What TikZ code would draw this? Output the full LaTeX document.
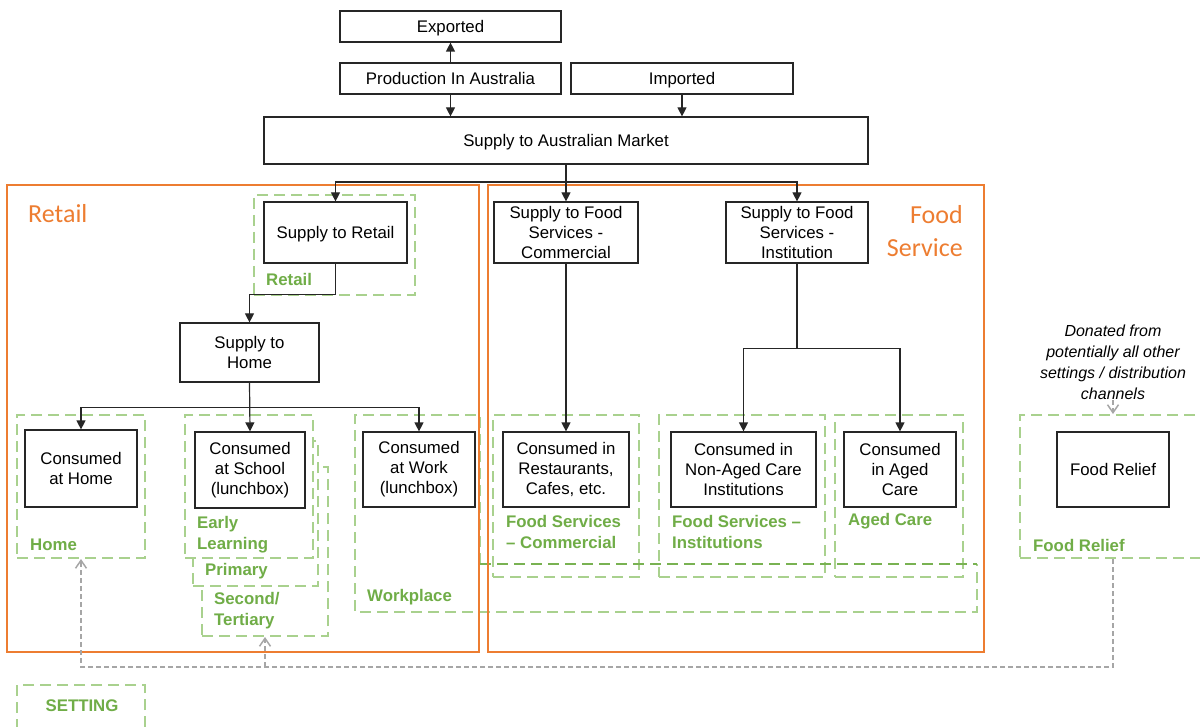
\documentclass[tikz,border=0pt]{standalone}
\usepackage{fontspec}
\setmainfont{Liberation Sans}
\newfontfamily\calib{Carlito}
\usetikzlibrary{arrows.meta}
\definecolor{orng}{HTML}{ED7D31}
\definecolor{grn}{HTML}{70AD47}
\definecolor{lgrn}{HTML}{A9D18E}
\definecolor{gry}{HTML}{A6A6A6}
\definecolor{ink}{HTML}{262626}

\begin{document}
\begin{tikzpicture}[x=1pt,y=-1pt,
  bx/.style={draw=ink, line width=1.2pt, fill=white, inner sep=0pt, align=center,
    font=\fontsize{16.8}{20}\selectfont},
  oneline/.style={text height=12pt, text depth=0pt},
  twoline/.style={execute at begin node={\rule{0pt}{16pt}}},
  zone/.style={draw=lgrn, line width=2pt, dash pattern=on 11pt off 6pt, fill=white, inner sep=0pt},
  glab/.style={text=grn, font=\fontsize{16.8}{21}\bfseries\selectfont, align=left, inner sep=0pt, anchor=west},
  olab/.style={text=orng, font=\calib\fontsize{26}{33}\selectfont, inner sep=0pt},
  sector/.style={draw=orng, line width=2pt},
  link/.style={draw=ink, line width=1.2pt},
  arr/.style={link, -{Triangle[length=9pt,width=9pt]}},
  feed/.style={draw=gry, line width=1.5pt, dash pattern=on 5pt off 3pt},
  feedarr/.style={feed, -{Straight Barb[length=8pt,width=11pt]}}
]
\useasboundingbox (0,0) rectangle (1200,727);

% ---- settings (green dashed zones) ----
\node[zone, minimum width=126pt, minimum height=169pt] (ztert) at (265,551.5) {};
\node[zone, minimum width=125pt, minimum height=145pt] (zprim) at (255.5,513.5) {};
\node[zone, minimum width=128pt, minimum height=143pt] (zearly) at (249,486.5) {};
\node[zone, minimum width=128pt, minimum height=143pt] (zhome) at (81,486.5) {};
\node[zone, minimum width=161pt, minimum height=100pt] (zret) at (334.5,245) {};
\node[zone, minimum width=146pt, minimum height=162pt] (zcomm) at (566,496) {};
\node[zone, minimum width=166pt, minimum height=162pt] (zinst) at (742,496) {};
\node[zone, minimum width=128pt, minimum height=162pt] (zaged) at (899,496) {};
\node[zone, minimum width=186pt, minimum height=143pt] (zrelief) at (1113,486.5) {};
\node[zone, minimum width=128pt, minimum height=50pt] (zset) at (81,710) {};

% workplace setting (L-shaped outline)
\draw[draw=lgrn, line width=2pt, dash pattern=on 11pt off 6pt]
  (480,564) -- (480,415) -- (355,415) -- (355,612) -- (977,612) -- (977,564);
\draw[draw=grn!85!lgrn, line width=1.6pt, dash pattern=on 11pt off 6pt]
  (480,564) -- (977,564);

% ---- sectors ----
\draw[sector] (7,185) rectangle (479,652);
\draw[sector] (488,185) rectangle (984,652);
\node[olab, anchor=west] (lretail) at (28,214) {Retail};
\node[olab, anchor=east, align=right] (lfood) at (963,231) {Food\\Service};

% ---- setting labels ----
\node[glab] (lret) at (266,279) {Retail};
\node[glab] (lhome) at (30,545) {Home};
\node[glab] (learly) at (197,535) {Early\\Learning};
\node[glab] (lprim) at (205,571) {Primary};
\node[glab] (ltert) at (214,611) {Second/\\Tertiary};
\node[glab] (lwork) at (367,597) {Workplace};
\node[glab] (lcomm) at (506,531.5) {Food Services\\– Commercial};
\node[glab] (linst) at (672,531.5) {Food Services –\\Institutions};
\node[glab] (laged) at (848,521) {Aged Care};
\node[glab] (lrel) at (1033,545) {Food Relief};
\node[glab, anchor=center] (lset) at (82,706) {SETTING};

% ---- flow boxes ----
\node[bx, oneline, minimum width=221pt, minimum height=31pt] (exp) at (450.5,26.5) {Exported};
\node[bx, oneline, minimum width=221pt, minimum height=31pt] (prod) at (450.5,78.5) {Production In Australia};
\node[bx, oneline, minimum width=222pt, minimum height=31pt] (imp) at (682,78.5) {Imported};
\node[bx, oneline, minimum width=604pt, minimum height=47pt] (mkt) at (566,140.5) {Supply to Australian Market};
\node[bx, oneline, minimum width=143pt, minimum height=61pt] (sret) at (335.5,232.5) {Supply to Retail};
\node[bx, twoline, minimum width=139pt, minimum height=59pt] (shome) at (249.5,352.5) {Supply to\\Home};
\node[bx, minimum width=144pt, minimum height=61pt] (sfc) at (566,232.5) {Supply to Food\\Services -\\Commercial};
\node[bx, minimum width=142pt, minimum height=61pt] (sfi) at (797,232.5) {Supply to Food\\Services -\\Institution};
\node[bx, twoline, minimum width=112pt, minimum height=77pt] (chome) at (81,468.5) {Consumed\\at Home};
\node[bx, minimum width=110pt, minimum height=76pt] (cschool) at (250,470) {Consumed\\at School\\(lunchbox)};
\node[bx, minimum width=112pt, minimum height=75pt] (cwork) at (419,469.5) {Consumed\\at Work\\(lunchbox)};
\node[bx, minimum width=126pt, minimum height=75pt] (crest) at (566,469.5) {Consumed in\\Restaurants,\\Cafes, etc.};
\node[bx, minimum width=145pt, minimum height=75pt] (cnon) at (743.5,469.5) {Consumed in\\Non-Aged Care\\Institutions};
\node[bx, minimum width=112pt, minimum height=75pt] (caged) at (900,469.5) {Consumed\\in Aged\\Care};
\node[bx, oneline, minimum width=112pt, minimum height=75pt] (crel) at (1113,469.5) {Food Relief};

\node[inner sep=0pt, align=center, font=\fontsize{16}{21}\itshape\selectfont] (don) at (1113,362.5)
  {Donated from\\potentially all other\\settings / distribution\\channels};

% ---- connectors ----
\draw[arr] (prod) -- (exp);
\draw[arr] (prod) -- (prod |- mkt.north);
\draw[arr] (imp) -- (imp |- mkt.north);
\draw[link] (mkt.south) -- (566,182) coordinate (j1);
\draw[arr] (j1) -| (sret.north);
\draw[arr] (j1) -| (sfi.north);
\draw[arr] (mkt.south) -- (sfc.north);

\draw[arr] (sret.south) -- ++(0,31) -| (shome.north);
\draw[link] (shome.south) -- ++(0,25) coordinate (j2);
\draw[arr] (j2) -| (chome.north);
\draw[arr] (j2) -| (cwork.north);
\draw[arr] (shome.south) -- (cschool.north);

\draw[arr] (sfc.south) -- (crest.north);
\draw[link] (sfi.south) -- ++(0,85) coordinate (j3);
\draw[arr] (j3) -| (cnon.north);
\draw[arr] (j3) -| (caged.north);

% ---- food relief feedback ----
\draw[feedarr] (don.south) -- (zrelief.north);
\coordinate (gb) at (1113,667);
\draw[feedarr] (zrelief.south) -- (gb) -| (zhome.south);
\draw[feedarr] (ztert.south |- gb) -- (ztert.south);
\end{tikzpicture}
\end{document}
